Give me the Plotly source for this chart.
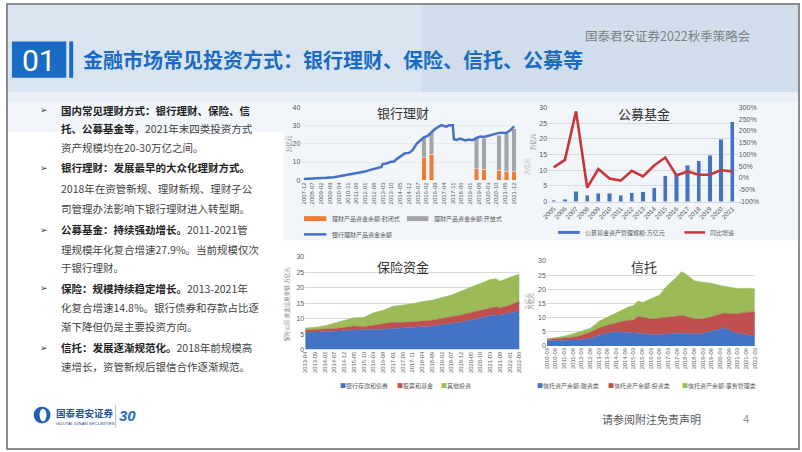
import plotly.graph_objects as go

W, H = 802, 452
def X(p): return p / W
def Y(p): return 1 - p / H

# ---------------- data ----------------
# Chart 1: 银行理财 (万亿元)
wm_dates = ["2007-12","2008-06","2008-12","2009-06","2009-12","2010-06","2010-12","2011-06","2011-12",
            "2012-06","2012-12","2013-02","2013-03","2013-06","2013-09","2013-12","2014-03","2014-06",
            "2014-09","2014-12","2015-03","2015-06","2015-09","2015-12","2016-03","2016-06","2016-09",
            "2016-12","2017-02","2017-04","2017-06","2017-08","2017-10","2017-11","2017-12","2018-02",
            "2018-05","2018-09","2018-12","2019-03","2019-06","2019-09","2019-12","2020-03","2020-06",
            "2020-09","2020-12","2021-03","2021-06","2021-09","2021-12"]
wm_total = [0.7,0.8,1.0,1.3,1.6,2.3,2.9,3.8,4.6,
            5.8,7.0,7.3,8.9,9.2,10.0,10.3,12.0,13.2,
            14.8,15.0,16.5,19.8,21.8,23.5,24.3,26.3,28.2,
            29.5,30.3,29.8,29.4,30.2,30.4,30.2,22.5,22.1,
            22.9,21.8,22.3,22.0,23.2,24.0,23.7,24.2,25.0,
            25.6,26.0,26.1,26.0,27.4,29.5]
wm_bar_dates = ["2015-12","2016-06","2019-06","2019-12","2020-12","2021-06","2021-12"]
wm_closed = [12.4,14.4,6.3,6.0,5.5,5.0,5.0]
wm_open = [11.0,11.6,16.6,17.0,19.2,20.6,23.3]
wm_ticks = ["2007-12","2008-07","2009-02","2009-09","2010-04","2010-11","2011-06","2012-01","2012-08",
            "2013-03","2013-10","2014-05","2014-12","2015-07","2016-02","2016-09","2017-04","2017-11",
            "2018-06","2019-01","2019-08","2020-03","2020-10","2021-05","2021-12"]

# Chart 2: 公募基金
fund_years = ["2005","2006","2007","2008","2009","2010","2011","2012","2013","2014","2015",
              "2016","2017","2018","2019","2020","2021"]
fund_aum = [0.5,0.7,3.3,2.0,2.6,2.6,2.0,2.8,3.1,4.4,8.3,9.1,11.5,13.0,14.8,19.9,25.5]
fund_yoy = [45,77,283,-41,38,-2,-11,31,7,53,87,11,28,14,14,34,28]
fund_pct_vals = [300,250,200,150,100,50,0,-50,-100]
fund_pct_text = ["300%","250%","200%","150%","100%","50%","0%","-50%","-100%"]

# Chart 3: 保险资金 (万亿元)
ins_dates = ["2013-04","2013-09","2014-02","2014-07","2014-12","2015-05","2015-10","2016-03",
             "2016-08","2017-01","2017-06","2017-11","2018-04","2018-09","2019-02","2019-07",
             "2019-12","2020-05","2020-10","2021-03","2021-06","2021-08","2022-01","2022-06"]
ins_bond = [5.5,5.6,5.8,6.0,6.1,6.3,6.3,6.5,6.6,6.8,6.9,7.0,7.4,7.6,8.0,8.4,8.9,9.5,10.3,11.0,11.2,11.2,11.8,12.4]
ins_stock = [0.8,0.8,0.7,0.8,1.0,1.3,1.1,1.4,1.6,2.0,1.9,1.9,1.8,1.9,2.0,2.2,2.3,2.5,2.4,2.6,2.6,2.3,2.5,3.2]
ins_other = [0.7,0.8,1.2,1.7,2.2,2.7,3.0,4.0,4.5,5.2,5.6,5.9,6.3,6.4,6.8,7.0,7.7,8.1,8.5,9.0,9.1,8.6,9.1,8.8]
ins_ticks = ["2013-04","2013-09","2014-02","2014-07","2014-12","2015-05","2015-10","2016-03",
             "2016-08","2017-01","2017-06","2017-11","2018-04","2018-09","2019-02","2019-07",
             "2019-12","2020-05","2020-10","2021-03","2021-08","2022-01","2022-06"]

# Chart 4: 信托 (万亿元)
tr_dates = ["2010-03","2010-09","2011-03","2011-09","2012-03","2012-09","2012-12","2013-03","2013-09",
            "2014-03","2014-09","2014-12","2015-03","2015-06","2015-09","2016-03","2016-09","2016-12",
            "2017-03","2017-09","2017-12","2018-03","2018-09","2019-03","2019-09","2020-03","2020-06",
            "2020-09","2021-03","2021-09","2022-03"]
tr_fin = [1.8,1.9,1.9,2.0,2.2,2.7,3.2,3.8,4.6,5.0,4.9,4.8,4.6,4.5,4.4,4.0,4.1,4.2,4.3,4.6,4.5,
          4.5,4.3,4.4,5.1,6.0,6.5,5.6,4.5,3.9,3.5]
tr_inv = [0.5,0.6,0.8,1.1,1.6,2.1,2.4,2.5,2.7,3.2,4.0,4.3,4.6,5.9,5.7,5.6,5.7,5.8,5.9,6.0,6.2,
          6.0,5.3,5.2,5.2,5.3,5.1,5.8,6.9,8.0,8.5]
tr_adm = [0.2,0.4,0.7,1.2,1.4,1.4,1.8,2.4,2.9,3.5,4.1,4.8,5.0,5.5,5.2,6.9,8.2,10.0,11.4,13.8,15.5,
          15.0,13.4,12.9,11.8,10.0,9.4,9.5,8.9,8.5,8.2]
tr_ticks = ["2010-03","2010-09","2011-03","2011-09","2012-03","2012-09","2013-03","2013-09","2014-03",
            "2014-09","2015-03","2015-09","2016-03","2016-09","2017-03","2017-09","2018-03","2018-09",
            "2019-03","2019-09","2020-03","2020-09","2021-03","2021-09","2022-03"]

BLUE = "#4472C4"; ORANGE = "#ED7D31"; GRAY = "#A5A5A5"; RED = "#C0504D"; GREEN = "#9BBB59"
LINE_RED = "#C8363A"
TICK = dict(family="Liberation Sans, Arial", size=7, color="#595959")
CJK = "Noto Sans CJK SC"

fig = go.Figure()

# ---- chart 1 ----
fig.add_trace(go.Bar(x=wm_bar_dates, y=wm_closed, marker_color=ORANGE, width=9e9,
                     xaxis="x", yaxis="y", showlegend=False))
fig.add_trace(go.Bar(x=wm_bar_dates, y=wm_open, marker_color=GRAY, width=9e9,
                     xaxis="x", yaxis="y", showlegend=False))
fig.add_trace(go.Scatter(x=wm_dates, y=wm_total, mode="lines", line=dict(color=BLUE, width=2.5),
                         xaxis="x", yaxis="y", showlegend=False))

# ---- chart 2 ----
fig.add_trace(go.Bar(x=fund_years, y=fund_aum, marker_color=BLUE, width=0.38,
                     xaxis="x2", yaxis="y2", showlegend=False))
fig.add_trace(go.Scatter(x=fund_years, y=fund_yoy, mode="lines", line=dict(color=LINE_RED, width=2.6),
                         xaxis="x2", yaxis="y3", showlegend=False))

# ---- chart 3 ----
for vals, col in [(ins_bond, BLUE), (ins_stock, RED), (ins_other, GREEN)]:
    fig.add_trace(go.Scatter(x=ins_dates, y=vals, mode="lines", stackgroup="ins",
                             line=dict(color=col, width=0.5), fillcolor=col,
                             xaxis="x3", yaxis="y4", showlegend=False))
# ---- chart 4 ----
for vals, col in [(tr_fin, BLUE), (tr_inv, RED), (tr_adm, GREEN)]:
    fig.add_trace(go.Scatter(x=tr_dates, y=vals, mode="lines", stackgroup="tr",
                             line=dict(color=col, width=0.5), fillcolor=col,
                             xaxis="x4", yaxis="y5", showlegend=False))

grid = "#d9d9d9"
fig.update_layout(
    width=W, height=H, autosize=False, margin=dict(l=0, r=0, t=0, b=0),
    paper_bgcolor="white", plot_bgcolor="rgba(0,0,0,0)", barmode="stack", bargap=0.6,
    xaxis=dict(domain=[X(298), X(516)], anchor="y", type="date",
               range=["2007-10-01", "2022-02-01"],
               tickvals=[t + "-01" for t in wm_ticks], ticktext=wm_ticks, tickangle=-90,
               tickfont=dict(family="Liberation Sans, Arial", size=6, color="#595959"),
               showgrid=False, showline=False, ticks=""),
    yaxis=dict(domain=[Y(179), Y(105)], anchor="x", range=[0, 40], dtick=10,
               tickfont=TICK, showgrid=True, gridcolor="rgba(217,217,217,0.45)", zeroline=False, ticks=""),
    xaxis2=dict(domain=[X(548), X(740)], anchor="y2", type="category", tickangle=-45,
                tickfont=dict(family="Liberation Sans, Arial", size=6.5, color="#595959"),
                showgrid=False, showline=True, linecolor=grid, ticks=""),
    yaxis2=dict(domain=[Y(200.7), Y(105)], anchor="x2", range=[0, 30], dtick=5,
                tickfont=TICK, showgrid=True, gridcolor=grid, zeroline=False, ticks=""),
    yaxis3=dict(overlaying="y2", side="right", anchor="x2", range=[-100, 300],
                tickvals=fund_pct_vals, ticktext=fund_pct_text, tickfont=TICK,
                showgrid=False, zeroline=False, ticks=""),
    xaxis3=dict(domain=[X(302), X(519)], anchor="y4", type="date",
                range=["2013-04-01", "2022-06-01"],
                tickvals=[t + "-01" for t in ins_ticks], ticktext=ins_ticks, tickangle=-90,
                tickfont=dict(family="Liberation Sans, Arial", size=5.8, color="#595959"),
                showgrid=False, showline=False, ticks=""),
    yaxis4=dict(domain=[Y(351), Y(256.7)], anchor="x3", range=[0, 30], dtick=5,
                tickfont=TICK, showgrid=True, gridcolor=grid, zeroline=False, ticks=""),
    xaxis4=dict(domain=[X(546.7), X(757.3)], anchor="y5", type="date",
                range=["2010-03-01", "2022-03-01"],
                tickvals=[t + "-01" for t in tr_ticks], ticktext=tr_ticks, tickangle=-90,
                tickfont=dict(family="Liberation Sans, Arial", size=5.8, color="#595959"),
                showgrid=False, showline=False, ticks=""),
    yaxis5=dict(domain=[Y(347.3), Y(261)], anchor="x4", range=[0, 30], dtick=5,
                tickfont=TICK, showgrid=True, gridcolor=grid, zeroline=False, ticks=""),
)

shapes = []
def rect(x0, y0, x1, y1, fill, line=None, layer="below", width=0):
    shapes.append(dict(type="rect", xref="paper", yref="paper", x0=X(x0), x1=X(x1), y0=Y(y1), y1=Y(y0),
                       fillcolor=fill, line=dict(color=line or fill, width=width), layer=layer))
def hline(x0, x1, y, color, width, layer="above"):
    shapes.append(dict(type="line", xref="paper", yref="paper", x0=X(x0), x1=X(x1), y0=Y(y), y1=Y(y),
                       line=dict(color=color, width=width), layer=layer))

# backgrounds
rect(0, 0, 802, 90, "#d8e4ef")
rect(420, 0, 802, 90, "rgba(200,216,230,0.45)")
rect(0, 90, 802, 100, "#e9f0f6")
rect(0, 100, 280, 130, "rgba(233,240,246,0.6)")
rect(280, 95, 802, 240, "rgba(232,238,245,0.55)")
# header elements
rect(5, 38, 60, 75, "#1a6bc4", layer="above")
rect(63, 38, 67, 75, "#1a6bc4", layer="above")
# chart 1 legend symbols
rect(300.7, 215.5, 323.3, 220.5, ORANGE, layer="above")
rect(405, 215.5, 426.7, 220.5, GRAY, layer="above")
hline(300.7, 323.3, 234, BLUE, 2.5)
# chart 2 legend symbols
rect(558, 230.5, 580, 233.5, BLUE, layer="above")
hline(686, 707, 232, LINE_RED, 2.5)
# footer
shapes.append(dict(type="circle", xref="paper", yref="paper", x0=X(27), x1=X(44), y0=Y(426), y1=Y(409),
                   fillcolor="#1f5fae", line=dict(color="#1f5fae", width=0)))
shapes.append(dict(type="circle", xref="paper", yref="paper", x0=X(33), x1=X(40), y0=Y(424), y1=Y(411),
                   fillcolor="white", line=dict(color="white", width=0)))
shapes.append(dict(type="line", xref="paper", yref="paper", x0=X(110), x1=X(110), y0=Y(430), y1=Y(407),
                   line=dict(color="#bfbfbf", width=1)))
# slide border
shapes.append(dict(type="rect", xref="paper", yref="paper", x0=0, x1=1, y0=0, y1=1,
                   line=dict(color="#8c8c8c", width=2), fillcolor="rgba(0,0,0,0)", layer="above"))

ann = []
def txt(x, y, s, size, color="#404040", anchor="left", family=CJK, angle=0, vanchor="middle"):
    ann.append(dict(x=X(x), y=Y(y), xref="paper", yref="paper", text=s, showarrow=False,
                    xanchor=anchor, yanchor=vanchor, textangle=angle,
                    font=dict(family=family, size=size, color=color)))

# header texts
txt(32.5, 57, "01", 30, "white", "center", family="Roboto, Liberation Sans")
txt(75, 56, "<b>金融市场常见投资方式：银行理财、保险、信托、公募等</b>", 20, "#1a6bc4")
txt(583, 32, "国泰君安证券2022秋季策略会", 12.5, "#7f7f7f")

# left text
B = "#1f1f1f"; N = "#3f3f3f"
lines = [
    (108, True, f"<b><span style='color:{B}'>国内常见理财方式：银行理财、保险、信</span></b>"),
    (126, False, f"<b><span style='color:{B}'>托、公募基金等</span></b>，2021年末四类投资方式"),
    (145.5, False, "资产规模均在20-30万亿之间。"),
    (166.5, True, f"<b><span style='color:{B}'>银行理财：发展最早的大众化理财方式。</span></b>"),
    (187, False, "2018年在资管新规、理财新规、理财子公"),
    (208, False, "司管理办法影响下银行理财进入转型期。"),
    (229.5, True, f"<b><span style='color:{B}'>公募基金：持续强劲增长。</span></b>2011-2021管"),
    (249.5, False, "理规模年化复合增速27.9%。当前规模仅次"),
    (268, False, "于银行理财。"),
    (288.5, True, f"<b><span style='color:{B}'>保险：规模持续稳定增长。</span></b>2013-2021年"),
    (308.5, False, "化复合增速14.8%。银行债券和存款占比逐"),
    (328, False, "渐下降但仍是主要投资方向。"),
    (349, True, f"<b><span style='color:{B}'>信托：发展逐渐规范化。</span></b>2018年前规模高"),
    (368, False, "速增长，资管新规后银信合作逐渐规范。"),
]
for y, bullet, s in lines:
    if bullet:
        txt(37, y, "➢", 9, "#404040", "center", family="DejaVu Sans")
    txt(53, y, s, 10.5, N)

# chart titles
txt(401, 110, "银行理财", 13, "#333333", "center")
txt(645, 111, "公募基金", 13, "#333333", "center")
txt(401, 267, "保险资金", 13, "#333333", "center")
txt(645, 267, "信托", 13, "#333333", "center")

# axis unit labels
txt(285, 142, "万亿元", 5.5, "#7f7f7f", "center", angle=-90)
txt(527, 165, "万亿元", 5.5, "#b0b0b0", "center", angle=-90)
txt(532, 140, "万亿元", 5.5, "#7f7f7f", "center", angle=-90)
txt(284, 305, "保险公司:资金运用余额:万亿元", 5.5, "#7f7f7f", "center", angle=-90)
txt(527, 302, "万亿元", 5.5, "#b0b0b0", "center", angle=-90)
txt(531, 302, "万亿元", 5.5, "#7f7f7f", "center", angle=-90)

# legends
LG = "#595959"
txt(327, 218, "理财产品资金余额:封闭式", 6, LG)
txt(430, 218, "理财产品资金余额:开放式", 6, LG)
txt(327, 234, "银行理财产品资金余额", 6, LG)
txt(583, 232, "公募基金资产管理规模:万亿元", 6, LG)
txt(710, 232, "同比增速", 6, LG)
txt(335, 388, f"<span style='color:{BLUE}'>■</span>银行存款和债券", 6, LG)
txt(393, 388, f"<span style='color:{RED}'>■</span>股票和基金", 6, LG)
txt(437, 388, f"<span style='color:{GREEN}'>■</span>其他投资", 6, LG)
txt(535, 388, f"<span style='color:{BLUE}'>■</span>信托资产余额:融资类", 6, LG)
txt(607, 388, f"<span style='color:{RED}'>■</span>信托资产余额:投资类", 6, LG)
txt(682, 388, f"<span style='color:{GREEN}'>■</span>信托资产余额:事务管理类", 6, LG)

# footer
txt(48, 415, "<b>国泰君安证券</b>", 9.5, "#1f4e9c")
txt(48, 426, "GUOTAI JUNAN SECURITIES", 4.3, "#1f4e9c", family="Liberation Sans")
txt(122, 418, "<b><i>30</i></b>", 15, "#1f6fc5", "center", family="Liberation Sans")
txt(600, 422, "请参阅附注免责声明", 11, "#595959")
txt(748, 422, "4", 11, "#8c8c8c", "center", family="Liberation Sans")

fig.update_layout(shapes=shapes, annotations=ann)
fig.write_html("out.html", config={"displayModeBar": False},
               post_script="document.body.style.margin='0';document.body.style.overflow='hidden';")
